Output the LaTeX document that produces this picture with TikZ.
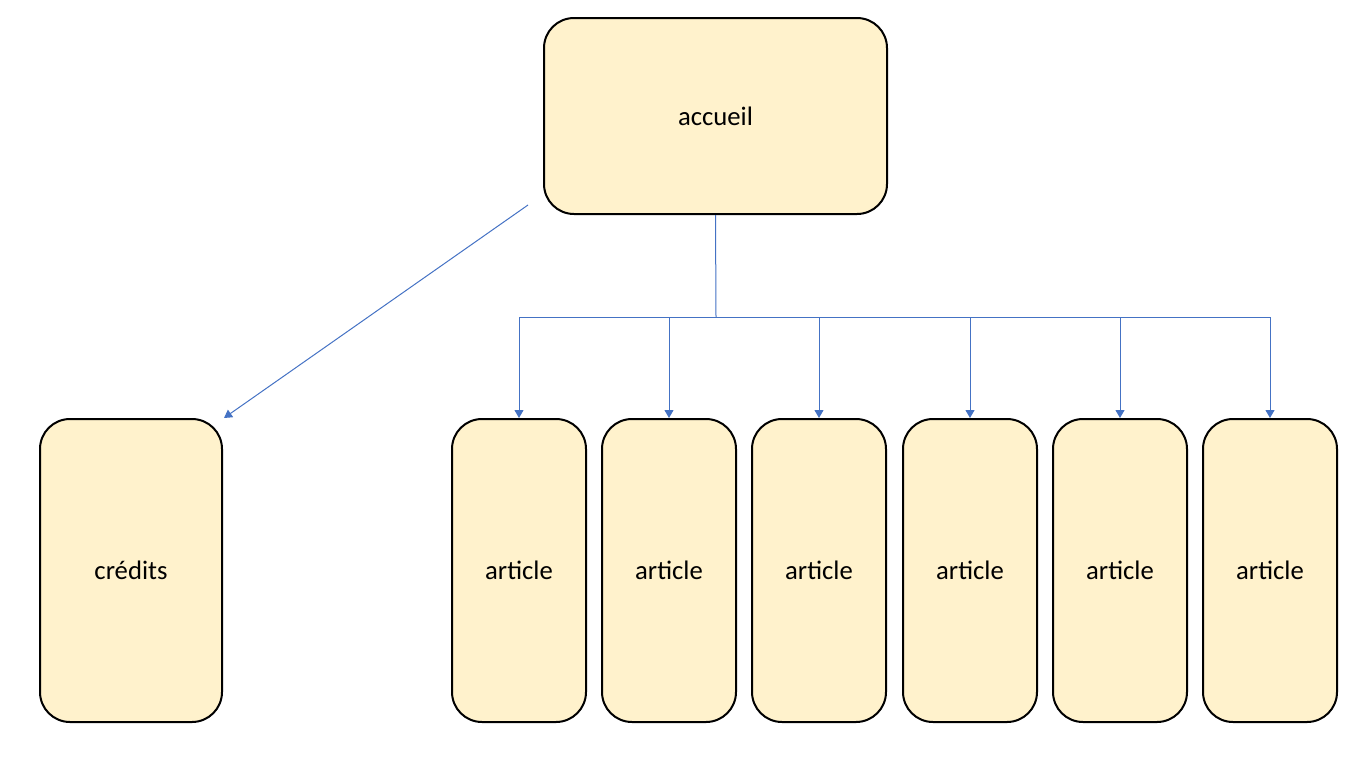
\documentclass[tikz,border=0pt]{standalone}
\usepackage{fontspec}
\setmainfont{Carlito}
\usetikzlibrary{arrows.meta}
\definecolor{boxfill}{HTML}{FFF2CC}
\definecolor{linkblue}{HTML}{4472C4}
\tikzset{
  page/.style={draw=black, line width=2pt, fill=boxfill, rounded corners=30pt,
    font=\fontsize{26.7}{32}\selectfont, inner sep=0pt},
  bigbox/.style={page, minimum width=343pt, minimum height=196pt},
  tallbox/.style={page, minimum width=182pt, minimum height=303pt},
  artbox/.style={page, minimum width=134pt, minimum height=303pt},
  link/.style={draw=linkblue, line width=1pt},
  linkarrow/.style={link, -{Triangle[width=9pt,length=8pt]}}
}
\begin{document}
\begin{tikzpicture}[x=1pt,y=-1pt]
\useasboundingbox (0,0) rectangle (1366,756);
\node[bigbox] (acc) at (715.5,116) {accueil};
\node[tallbox] (cred) at (131,570.5) {crédits};
\node[artbox] (a1) at (519,570.5) {article};
\node[artbox] (a2) at (669,570.5) {article};
\node[artbox] (a3) at (819,570.5) {article};
\node[artbox] (a4) at (970,570.5) {article};
\node[artbox] (a5) at (1120,570.5) {article};
\node[artbox] (a6) at (1270,570.5) {article};
\coordinate (j) at (716,317);
\coordinate (d1) at (528,205);
\coordinate (d2) at (224,418);
\draw[link] (acc.south) -- (j);
\foreach \n in {a1,a2,a3,a4,a5,a6}{
  \draw[linkarrow] (j) -| (\n.north);
}
\draw[linkarrow] (d1) -- (d2);
\end{tikzpicture}
\end{document}
